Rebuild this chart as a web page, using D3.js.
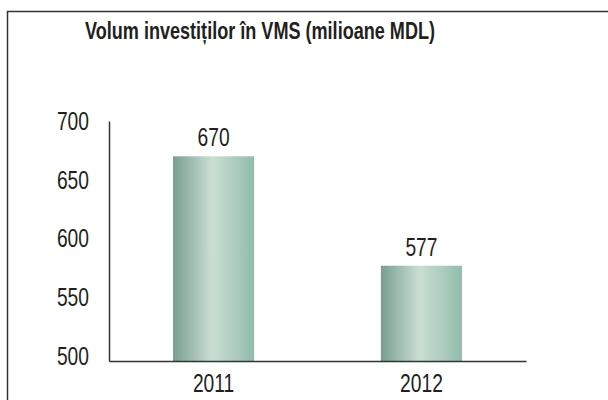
<!DOCTYPE html>
<html>
<head>
<meta charset="utf-8">
<script src="https://cdn.jsdelivr.net/npm/d3@7"></script>
<style>
  body { margin: 0; background: #fff; }
  svg text { font-family: "Liberation Sans", Arial, sans-serif; fill: #231f20; }
</style>
</head>
<body>
<svg id="chart" width="608" height="400"></svg>
<script>
// Chart data
var years = ["2011", "2012"];
var values = [670, 577];
var yTicks = [500, 550, 600, 650, 700];
var title = "Volum investiților în VMS (milioane MDL)";

var narrowK = 0.74; // horizontal squeeze to imitate a condensed face

var svg = d3.select("#chart");

// Squeeze text horizontally while keeping its anchor point
function narrow(sel) {
    sel.each(function() {
        var t = d3.select(this);
        var x0 = +(t.attr("x") || 0);
        t.attr("x", x0 / narrowK)
         .attr("transform", "scale(" + narrowK + ",1)");
    });
}

// Frame around the chart (runs off the right and bottom edge)
svg.append("rect")
    .attr("x", 7.5)
    .attr("y", 11.5)
    .attr("width", 640)
    .attr("height", 420)
    .attr("fill", "none")
    .attr("stroke", "#333")
    .attr("stroke-width", 1.5);

// Title
svg.append("text")
    .attr("x", 260)
    .attr("y", 39)
    .attr("text-anchor", "middle")
    .attr("textLength", 350)
    .attr("lengthAdjust", "spacingAndGlyphs")
    .style("font-weight", "bold")
    .style("font-size", "24px")
    .text(title);

// Scales
var x = d3.scaleBand()
    .domain(years)
    .range([109, 526])
    .paddingInner(0.61)
    .paddingOuter(0.308);

var y = d3.scaleLinear()
    .domain([496, 700])
    .range([361, 121]);

// Bar gradient
var grad = svg.append("defs").append("linearGradient")
    .attr("id", "barGrad")
    .attr("x1", "0%").attr("x2", "100%")
    .attr("y1", "0%").attr("y2", "0%");
grad.append("stop").attr("offset", "0%").attr("stop-color", "#799e91");
grad.append("stop").attr("offset", "48%").attr("stop-color", "#cadfd2");
grad.append("stop").attr("offset", "100%").attr("stop-color", "#93bbad");

// Bars
svg.selectAll("rect.bar")
    .data(values)
    .enter().append("rect")
    .attr("class", "bar")
    .attr("x", function(d, i) { return x(years[i]); })
    .attr("y", function(d) { return y(d); })
    .attr("width", x.bandwidth())
    .attr("height", function(d) { return y.range()[0] - y(d); })
    .attr("fill", "url(#barGrad)");

// Value labels
svg.selectAll("text.value")
    .data(values)
    .enter().append("text")
    .attr("class", "value")
    .attr("x", function(d, i) { return x(years[i]) + x.bandwidth() / 2; })
    .attr("y", function(d) { return y(d) - 10; })
    .attr("text-anchor", "middle")
    .style("font-size", "26px")
    .text(function(d) { return d; })
    .call(narrow);

// Axes
var yAxis = svg.append("g")
    .attr("transform", "translate(109,0)")
    .call(d3.axisLeft(y).tickValues(yTicks).tickSize(0).tickPadding(20));

var xAxis = svg.append("g")
    .attr("transform", "translate(0,361)")
    .call(d3.axisBottom(x).tickSize(0).tickSizeOuter(0).tickPadding(13));

[yAxis, xAxis].forEach(function(g) {
    g.select(".domain").attr("stroke", "#333").attr("stroke-width", 1.5);
    g.selectAll("text")
        .style("font-size", "26px")
        .style("font-family", "'Liberation Sans', Arial, sans-serif")
        .attr("fill", "#231f20")
        .call(narrow);
});
</script>
</body>
</html>
